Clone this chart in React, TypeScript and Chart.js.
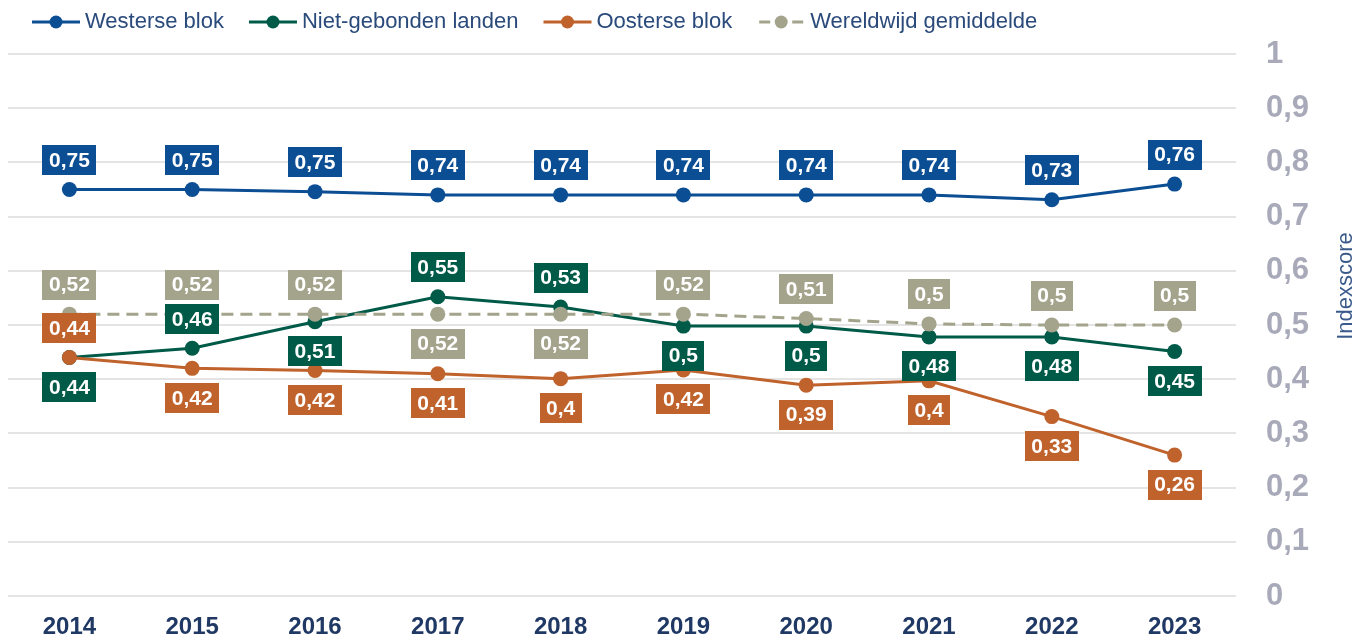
import React, { useEffect, useRef } from "react";
import { Chart, registerables } from "chart.js";

Chart.register(...registerables);

// ---------- data ----------
const years = ["2014", "2015", "2016", "2017", "2018", "2019", "2020", "2021", "2022", "2023"];
const seriesNames = ["Westerse blok", "Niet-gebonden landen", "Oosterse blok", "Wereldwijd gemiddelde"];
const westerse = [0.75, 0.75, 0.746, 0.74, 0.74, 0.74, 0.74, 0.74, 0.731, 0.76];
const nietGebonden = [0.44, 0.457, 0.506, 0.552, 0.533, 0.498, 0.498, 0.478, 0.478, 0.451];
const oosterse = [0.44, 0.42, 0.416, 0.41, 0.401, 0.417, 0.389, 0.397, 0.331, 0.26];
const wereldwijd = [0.52, 0.52, 0.52, 0.52, 0.52, 0.52, 0.512, 0.502, 0.5, 0.5];
const axisTitle = "Indexscore";

// label placement per point: "a" = above, "b" = below
const westersePos = ["a", "a", "a", "a", "a", "a", "a", "a", "a", "a"];
const nietPos = ["b", "a", "b", "a", "a", "b", "b", "b", "b", "b"];
const oostersePos = ["a", "b", "b", "b", "b", "b", "b", "b", "b", "b"];
const wereldPos = ["a", "a", "a", "b", "b", "a", "a", "a", "a", "a"];

// ---------- style ----------
const FONT = "'Liberation Sans', Arial, Helvetica, sans-serif";
const BLUE = "#0c4e93";
const GREEN = "#005a48";
const ORANGE = "#c0622c";
const GRAY = "#a4a48d";

const fmt = (v: number) => String(Math.round(v * 100) / 100).replace(".", ",");
const fmtTick = (v: number) => String(Math.round(v * 10) / 10).replace(".", ",");

const valueLabels = {
  id: "valueLabels",
  afterDatasetsDraw(chart: any, _args: any, opts: any) {
    const ctx = chart.ctx;
    ctx.save();
    ctx.font = `bold 21px ${FONT}`;
    ctx.textAlign = "center";
    ctx.textBaseline = "middle";
    const order = [2, 1, 0, 3];
    order.forEach((i) => {
      const ds = chart.data.datasets[i];
      const meta = chart.getDatasetMeta(i);
      const pos = opts.positions[i];
      meta.data.forEach((pt: any, j: number) => {
        const t = fmt(ds.data[j]);
        const w = Math.round(ctx.measureText(t).width + 13);
        const h = 30;
        const cy = pt.y + (pos[j] === "b" ? 29.5 : -29.5);
        ctx.fillStyle = ds.borderColor;
        ctx.fillRect(Math.round(pt.x - w / 2), Math.round(cy - h / 2), w, h);
        ctx.fillStyle = "#ffffff";
        ctx.fillText(t, pt.x, cy + 1);
      });
    });
    ctx.restore();
  },
};

const customLegend = {
  id: "customLegend",
  afterDraw(chart: any) {
    const ctx = chart.ctx;
    ctx.save();
    ctx.font = `22px ${FONT}`;
    ctx.textBaseline = "middle";
    ctx.textAlign = "left";
    let x = 32;
    const y = 22;
    chart.data.datasets.forEach((ds: any) => {
      const c = ds.borderColor;
      ctx.strokeStyle = c;
      ctx.fillStyle = c;
      ctx.lineWidth = 3;
      ctx.setLineDash([]);
      ctx.beginPath();
      if (ds.borderDash && ds.borderDash.length) {
        ctx.moveTo(x + 2, y);
        ctx.lineTo(x + 13, y);
        ctx.moveTo(x + 35, y);
        ctx.lineTo(x + 46, y);
      } else {
        ctx.moveTo(x, y);
        ctx.lineTo(x + 48, y);
      }
      ctx.stroke();
      ctx.beginPath();
      ctx.arc(x + 24, y, 6.5, 0, Math.PI * 2);
      ctx.fill();
      ctx.fillStyle = "#2a4a7b";
      const tx = x + 53;
      ctx.fillText(ds.label, tx, y);
      x = tx + ctx.measureText(ds.label).width + 25;
    });
    // rotated axis title
    ctx.translate(1346, 286);
    ctx.rotate(-Math.PI / 2);
    ctx.textAlign = "center";
    ctx.fillStyle = "#3a5a8c";
    ctx.font = `22px ${FONT}`;
    ctx.fillText(axisTitle, 0, 0);
    ctx.restore();
  },
};

export default function App() {
  const ref = useRef<HTMLCanvasElement | null>(null);

  useEffect(() => {
    if (!ref.current) return;
    Chart.defaults.font.family = FONT;
    const mk = (label: string, data: number[], color: string, order: number, dash?: number[]) => ({
      label,
      data,
      borderColor: color,
      backgroundColor: color,
      pointBackgroundColor: color,
      pointBorderColor: color,
      pointBorderWidth: 0,
      pointRadius: 7.5,
      pointHoverRadius: 7.5,
      borderWidth: 3,
      borderDash: dash || [],
      tension: 0,
      fill: false,
      order,
    });
    const chart = new Chart(ref.current, {
      type: "line",
      data: {
        labels: years,
        datasets: [
          mk(seriesNames[0], westerse, BLUE, 3),
          mk(seriesNames[1], nietGebonden, GREEN, 2),
          mk(seriesNames[2], oosterse, ORANGE, 1),
          mk(seriesNames[3], wereldwijd, GRAY, 0, [12, 7]),
        ],
      },
      options: {
        responsive: false,
        animation: false,
        layout: { padding: { left: 8, top: 54, right: 0, bottom: 0 } },
        plugins: {
          legend: { display: false },
          tooltip: { enabled: false },
          valueLabels: { positions: [westersePos, nietPos, oostersePos, wereldPos] },
        } as any,
        scales: {
          x: {
            offset: true,
            grid: { display: false, drawTicks: false },
            border: { display: false },
            ticks: {
              color: "#1f3864",
              font: { size: 24, weight: "bold", family: FONT },
              padding: 17,
              maxRotation: 0,
              autoSkip: false,
            },
            afterFit(scale: any) {
              scale.height = 43;
              scale.paddingLeft = 0;
              scale.paddingRight = 0;
            },
          },
          y: {
            position: "right",
            min: 0,
            max: 1,
            grid: { color: "#e4e4e4", lineWidth: 2, drawTicks: false },
            border: { display: false },
            ticks: {
              stepSize: 0.1,
              color: "#a8aab9",
              font: { size: 31, weight: "bold", family: FONT },
              padding: 30,
              callback: (v: any) => fmtTick(Number(v)),
            },
            afterFit(scale: any) {
              scale.width = 133;
              scale.paddingTop = 0;
              scale.paddingBottom = 0;
            },
          },
        },
      } as any,
      plugins: [valueLabels, customLegend],
    });
    return () => chart.destroy();
  }, []);

  return (
    <div style={{ position: "absolute", left: 0, top: 0, width: 1369, height: 639, background: "#ffffff" }}>
      <canvas ref={ref} width={1369} height={639} style={{ display: "block" }} />
    </div>
  );
}
